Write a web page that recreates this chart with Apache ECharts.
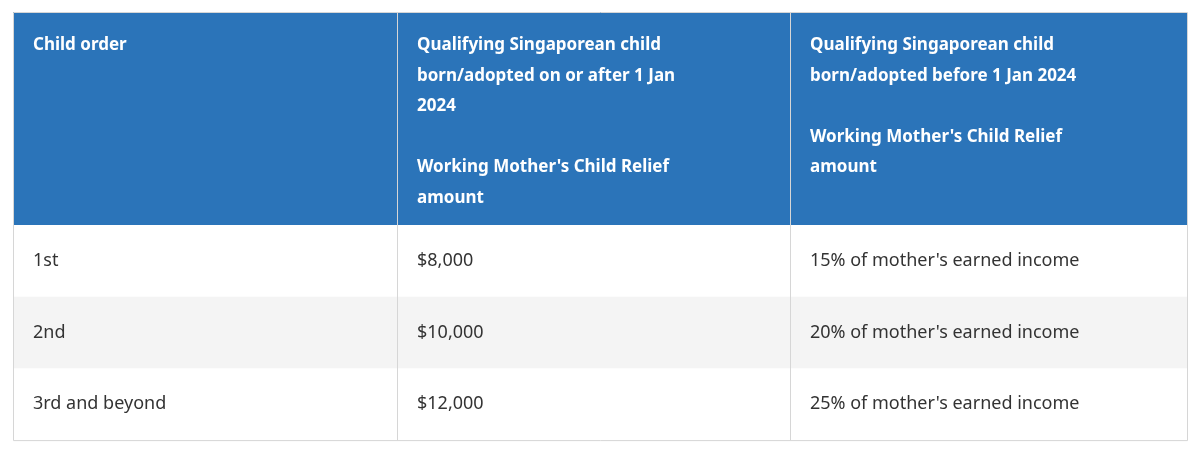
<!DOCTYPE html>
<html lang="en">
<head>
    <meta charset="UTF-8">
    <title>Working Mother's Child Relief</title>
    <script src="https://cdn.jsdelivr.net/npm/echarts@6/dist/echarts.min.js"></script>
    <style>
        html, body { margin: 0; padding: 0; background: #fff; }
        #table { width: 1200px; height: 451px; }
    </style>
</head>
<body>
    <div id="table"></div>
    <script>
        var headers = [
            ['Child order'],
            ['Qualifying Singaporean child', 'born/adopted on or after 1 Jan', '2024', '', "Working Mother's Child Relief", 'amount'],
            ['Qualifying Singaporean child', 'born/adopted before 1 Jan 2024', '', "Working Mother's Child Relief", 'amount']
        ];
        var childOrder = ['1st', '2nd', '3rd and beyond'];
        var reliefNew = ['$8,000', '$10,000', '$12,000'];
        var reliefOld = ["15% of mother's earned income", "20% of mother's earned income", "25% of mother's earned income"];

        // layout
        var colX = [13, 397, 790, 1187];
        var tableTop = 12, headH = 213, rowH = 71.7;
        var pad = 20;

        var chart = echarts.init(document.getElementById('table'));
        var g = [];
        // header background
        g.push({ type: 'rect', shape: { x: colX[0], y: tableTop, width: colX[3] - colX[0], height: headH }, style: { fill: '#2b74b9' } });
        // body rows
        var columns = [childOrder, reliefNew, reliefOld];
        for (var r = 0; r < childOrder.length; r++) {
            var y = tableTop + headH + r * rowH;
            g.push({ type: 'rect', shape: { x: colX[0], y: y, width: colX[3] - colX[0], height: rowH },
                style: { fill: r % 2 === 1 ? '#f4f4f4' : '#fff' } });
            for (var c = 0; c < 3; c++) {
                g.push({ type: 'text', x: colX[c] + pad, y: y + rowH / 2,
                    style: { text: columns[c][r], fill: '#333', font: '18px "Noto Sans"', verticalAlign: 'middle' } });
            }
        }
        // header text
        for (var c = 0; c < 3; c++) {
            g.push({ type: 'text', x: colX[c] + pad, y: 30,
                style: { text: headers[c].join('\n'), fill: '#fff', font: 'bold 17px "Noto Sans"', lineHeight: 30.5 } });
        }
        // grid lines
        var tableBottom = tableTop + headH + rowH * childOrder.length;
        for (var c = 1; c < 3; c++) {
            g.push({ type: 'line', shape: { x1: colX[c] + 0.5, y1: tableTop, x2: colX[c] + 0.5, y2: tableBottom }, style: { stroke: '#d6d6d6', lineWidth: 1 } });
        }
        g.push({ type: 'rect', shape: { x: colX[0] + 0.5, y: tableTop + 0.5, width: colX[3] - colX[0], height: tableBottom - tableTop },
            style: { fill: null, stroke: '#d6d6d6', lineWidth: 1 } });

        chart.setOption({ animation: false, graphic: { elements: g } });
    </script>
</body>
</html>
